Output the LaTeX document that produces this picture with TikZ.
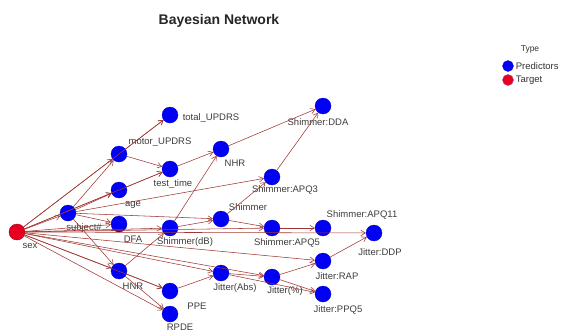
\documentclass[tikz,border=0pt]{standalone}
\usepackage{fontspec}
\setmainfont{Liberation Sans}
\usetikzlibrary{positioning, arrows.meta}
\definecolor{edgered}{RGB}{160,55,50}
\definecolor{predblue}{RGB}{0,0,245}
\definecolor{targred}{RGB}{232,0,32}
\definecolor{lbltext}{RGB}{60,60,60}

\begin{document}
\begin{tikzpicture}[
        x=1pt, y=-1pt,
        font=\fontsize{9.5}{11}\selectfont,
        pred/.style={circle, fill=predblue, draw=predblue!80!black, line width=0.3pt, minimum size=16pt, inner sep=0pt},
        targ/.style={circle, fill=targred, draw=targred!70!black, line width=0.4pt, minimum size=16pt, inner sep=0pt},
        lbl/.style={text=lbltext, inner sep=0pt},
        arrow/.style={-{Straight Barb[length=4.5pt,width=5.5pt]}, draw=edgered, line width=0.55pt}
    ]
    \useasboundingbox (0,0) rectangle (568,333);

    \node (title) [font=\fontsize{14}{16}\selectfont\bfseries, text=black!85] at (219,21) {Bayesian Network};

    % nodes
    \node (sex) [targ] at (17,232) {};
    \node (subj) [pred] at (68,213) {};
    \node (age) [pred] at (119,190) {};
    \node (motor) [pred] at (119,154) {};
    \node (total) [pred] at (170,115) {};
    \node (testtime) [pred] at (170,169) {};
    \node (dfa) [pred] at (119,224) {};
    \node (hnr) [pred] at (119,271) {};
    \node (shdb) [pred] at (170,228) {};
    \node (ppe) [pred] at (170,291) {};
    \node (rpde) [pred] at (170,314) {};
    \node (nhr) [pred] at (221,149) {};
    \node (shim) [pred] at (221,219) {};
    \node (jabs) [pred] at (221,273) {};
    \node (apq3) [pred] at (272,177) {};
    \node (apq5) [pred] at (272,228) {};
    \node (jpct) [pred] at (272,277) {};
    \node (dda) [pred] at (323,106) {};
    \node (apq11) [pred] at (323,228) {};
    \node (rap) [pred] at (323,261) {};
    \node (ppq5) [pred] at (323,294) {};
    \node (ddp) [pred] at (374,233) {};

    % labels
    \node (sex-t) [lbl] at (30,246) {sex};
    \node (subj-t) [lbl] at (84,228) {subject\#};
    \node (age-t) [lbl] at (133,205) {age};
    \node (motor-t) [lbl] at (160,142) {motor\_UPDRS};
    \node (total-t) [lbl] at (211,118) {total\_UPDRS};
    \node (testtime-t) [lbl] at (173,184) {test\_time};
    \node (dfa-t) [lbl] at (133,239) {DFA};
    \node (hnr-t) [lbl] at (133,286) {HNR};
    \node (shdb-t) [lbl] at (185,242) {Shimmer(dB)};
    \node (ppe-t) [lbl] at (197,306) {PPE};
    \node (rpde-t) [lbl] at (180,327) {RPDE};
    \node (nhr-t) [lbl] at (235,163) {NHR};
    \node (shim-t) [lbl] at (248,207) {Shimmer};
    \node (jabs-t) [lbl] at (235,288) {Jitter(Abs)};
    \node (apq3-t) [lbl] at (285,190) {Shimmer:APQ3};
    \node (apq5-t) [lbl] at (287,243) {Shimmer:APQ5};
    \node (jpct-t) [lbl] at (285,291) {Jitter(\%)};
    \node (dda-t) [lbl] at (318,122) {Shimmer:DDA};
    \node (apq11-t) [lbl] at (362,215) {Shimmer:APQ11};
    \node (rap-t) [lbl] at (337,276) {Jitter:RAP};
    \node (ppq5-t) [lbl] at (338,310) {Jitter:PPQ5};
    \node (ddp-t) [lbl] at (380,252) {Jitter:DDP};

    % edges
    \draw [arrow] (sex) -- (subj);
    \draw [arrow] (sex) -- (motor);
    \draw [arrow] (sex) -- (total);
    \draw [arrow] (sex) -- (age);
    \draw [arrow] (sex) -- (testtime);
    \draw [arrow] (sex) -- (dfa);
    \draw [arrow] (sex) -- (shdb);
    \draw [arrow] (sex) -- (apq5);
    \draw [arrow] (sex) -- (ddp);
    \draw [arrow] (sex) -- (hnr);
    \draw [arrow] (sex) -- (ppe);
    \draw [arrow] (sex) -- (rpde);
    \draw [arrow] (sex) -- (jabs);
    \draw [arrow] (sex) -- (jpct);
    \draw [arrow] (sex) -- (rap);
    \draw [arrow] (subj) -- (motor);
    \draw [arrow] (subj) -- (age);
    \draw [arrow] (subj) -- (dfa);
    \draw [arrow] (subj) -- (hnr);
    \draw [arrow] (subj) -- (apq3);
    \draw [arrow] (subj) -- (shim);
    \draw [arrow] (motor) -- (total);
    \draw [arrow] (motor) -- (testtime);
    \draw [arrow] (age) -- (testtime);
    \draw [arrow] (testtime) -- (nhr);
    \draw [arrow] (nhr) -- (dda);
    \draw [arrow] (apq3) -- (dda);
    \draw [arrow] (shim) -- (apq3);
    \draw [arrow] (shdb) -- (nhr);
    \draw [arrow] (shdb) -- (shim);
    \draw [arrow] (shim) -- (apq5);
    \draw [arrow] (apq5) -- (apq11);
    \draw [arrow] (hnr) -- (shdb);
    \draw [arrow] (hnr) -- (ppe);
    \draw [arrow] (hnr) -- (rpde);
    \draw [arrow] (ppe) -- (jabs);
    \draw [arrow] (jabs) -- (jpct);
    \draw [arrow] (jabs) -- (ppq5);
    \draw [arrow] (jpct) -- (rap);
    \draw [arrow] (jpct) -- (ppq5);
    \draw [arrow] (rap) -- (ddp);

    % legend
    \node (type) [lbl, font=\fontsize{8.5}{10}\selectfont, text=black!80] at (530,49) {Type};
    \node (leg-pred) [pred, minimum size=11pt] at (508,66) {};
    \node (leg-pred-t) [lbl, anchor=west, text=black!80, right=2pt of leg-pred] {Predictors};
    \node (leg-targ) [targ, minimum size=11pt, draw=magenta!70!black] at (508,80) {};
    \node (leg-targ-t) [lbl, anchor=west, text=black!80, right=2pt of leg-targ] {Target};
\end{tikzpicture}
\end{document}
